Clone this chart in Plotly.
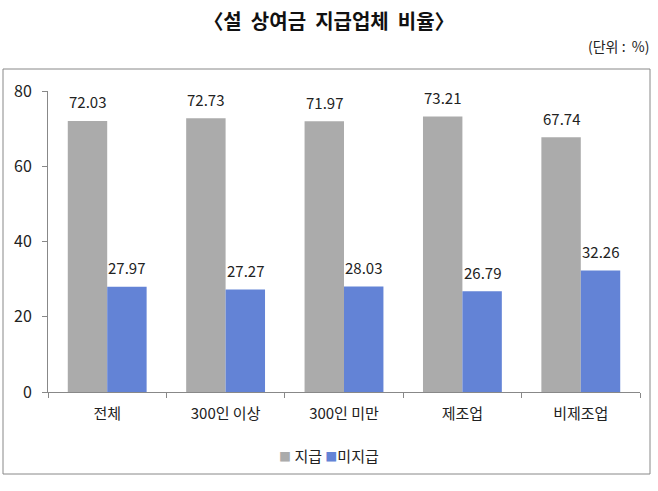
import plotly.graph_objects as go

categories = ["전체", "300인 이상", "300인 미만", "제조업", "비제조업"]
paid = [72.03, 72.73, 71.97, 73.21, 67.74]
unpaid = [27.97, 27.27, 28.03, 26.79, 32.26]
y_ticks = [0, 20, 40, 60, 80]
series_names = ["지급", "미지급"]
series_colors = ["#ABABAB", "#6383D6"]

FONT = "Noto Sans CJK KR"
W, H = 658, 491
L, R, T, B = 48, 18, 91, 99
pw, ph = W - L - R, H - T - B

def px(x):
    return (x - L) / pw

def py(y):
    return (H - B - y) / ph

fig = go.Figure()
annotations = []
for vals, name, color, shift in [(paid, series_names[0], series_colors[0], -19.75),
                                 (unpaid, series_names[1], series_colors[1], 19.75)]:
    fig.add_trace(go.Bar(
        x=categories, y=vals, name=name,
        marker=dict(color=color, line=dict(width=0)),
        showlegend=False,
    ))
    for c, v in zip(categories, vals):
        annotations.append(dict(x=c, y=v, xref="x", yref="y", text=f"{v:.2f}",
                                showarrow=False, xshift=shift, yshift=19,
                                yanchor="middle", xanchor="center",
                                font=dict(size=15, family=FONT, color="#222222")))

legend_text = (f'<span style="color:{series_colors[0]};font-size:12px">■</span> {series_names[0]} '
               f'<span style="color:{series_colors[1]};font-size:12px">■</span>{series_names[1]}')
annotations.append(dict(text=legend_text, xref="paper", yref="paper",
                        x=px(329), y=py(455), xanchor="center", yanchor="middle",
                        showarrow=False, font=dict(size=15, family=FONT, color="#222222")))
annotations.append(dict(text="(단위 :  %)", xref="paper", yref="paper",
                        x=px(651), y=py(46), xanchor="right", yanchor="middle",
                        showarrow=False, font=dict(size=14, family=FONT, color="#222222")))

fig.update_layout(
    width=W, height=H,
    margin=dict(l=L, r=R, t=T, b=B),
    paper_bgcolor="white", plot_bgcolor="white",
    font=dict(family=FONT, size=14, color="#222222"),
    barmode="group", bargap=0.334, bargroupgap=0,
    title=dict(text="〈설  상여금  지급업체  비율〉", x=0.5, xanchor="center",
               y=1 - 22 / H, yanchor="middle",
               font=dict(size=20, family=FONT, color="#111111", weight="bold")),
    showlegend=False,
    xaxis=dict(showline=True, linecolor="#888888", linewidth=1,
               ticks="outside", tickson="boundaries", ticklen=5, tickcolor="#888888",
               ticklabelstandoff=8,
               showgrid=False, tickfont=dict(size=15, color="#222222")),
    yaxis=dict(range=[0, 80], tickvals=y_ticks, showline=True, linecolor="#888888",
               linewidth=1, ticks="outside", ticklen=5, tickcolor="#888888",
               ticklabelstandoff=7,
               showgrid=False, zeroline=False, tickfont=dict(size=16, color="#222222")),
    shapes=[dict(type="rect", xref="paper", yref="paper",
                 x0=px(3), x1=px(650), y0=py(474), y1=py(69),
                 line=dict(color="#888888", width=1), fillcolor="rgba(0,0,0,0)",
                 layer="below")],
    annotations=annotations,
)

fig.write_html("out.html")
